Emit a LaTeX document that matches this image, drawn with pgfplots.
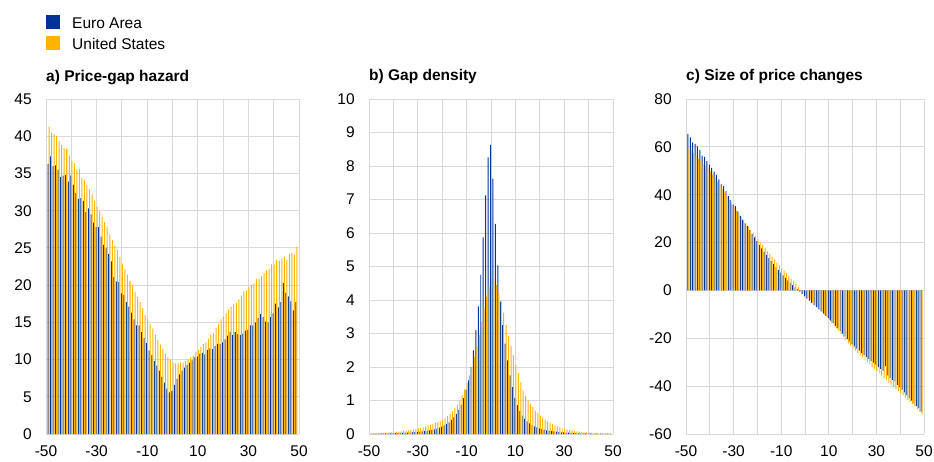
\documentclass[border=0pt]{standalone}
\usepackage{pgfplots}
\pgfplotsset{compat=1.18}
\usepackage{pgfplotstable}
\usepackage{fontspec}
\setmainfont{Liberation Sans}
\definecolor{eablue}{HTML}{003299}
\definecolor{usyel}{HTML}{FFB400}
\definecolor{gridc}{HTML}{D9D9D9}

\pgfplotstableread{
x ea us
-49 36.3 41.3
-48 37.3 40.5
-47 36.0 40.2
-46 36.1 40.0
-45 35.5 39.3
-44 34.5 38.8
-43 34.7 38.4
-42 34.8 38.3
-41 33.9 37.4
-40 34.7 36.7
-39 33.5 36.4
-38 32.4 35.5
-37 31.6 35.6
-36 31.7 34.4
-35 31.3 34.1
-34 29.8 33.4
-33 30.3 32.9
-32 29.5 32.2
-31 28.4 31.3
-30 27.8 30.5
-29 27.8 29.9
-28 26.5 29.2
-27 25.4 28.5
-26 25.0 27.9
-25 24.2 26.8
-24 23.2 26.0
-23 21.1 25.3
-22 20.5 24.7
-21 20.4 23.8
-20 18.9 22.9
-19 18.7 22.1
-18 17.7 21.4
-17 17.1 20.6
-16 16.3 20.0
-15 15.4 19.1
-14 14.6 18.4
-13 14.6 17.7
-12 13.7 16.9
-11 12.9 16.0
-10 12.2 15.4
-9 11.2 14.8
-8 10.6 14.2
-7 9.8 13.3
-6 9.2 12.6
-5 8.5 12.0
-4 7.7 11.4
-3 6.9 10.8
-2 6.1 10.3
-1 5.6 10.0
0 5.8 9.6
1 6.6 9.5
2 7.4 9.5
3 8.0 9.6
4 8.5 9.6
5 8.9 9.8
6 9.3 10.0
7 9.6 10.3
8 9.9 10.5
9 10.3 11.0
10 10.4 11.3
11 10.8 11.7
12 10.9 12.1
13 10.7 12.3
14 11.3 12.8
15 11.5 13.3
16 11.4 13.6
17 11.8 14.3
18 12.1 14.8
19 12.1 15.4
20 12.3 15.7
21 12.7 16.2
22 13.2 16.7
23 13.7 17.1
24 13.3 17.4
25 13.7 17.6
26 13.4 18.1
27 13.3 18.6
28 13.5 19.2
29 13.9 19.3
30 14.0 19.8
31 14.6 20.0
32 14.6 20.2
33 15.0 20.8
34 15.6 20.8
35 16.1 21.2
36 15.7 21.6
37 15.1 22.0
38 15.0 22.2
39 15.7 22.8
40 16.2 22.8
41 17.5 23.4
42 17.0 23.3
43 17.7 23.6
44 20.3 23.8
45 19.0 23.4
46 18.5 24.2
47 17.8 24.3
48 16.6 24.1
49 17.7 25.1
}\hazard

\pgfplotstableread{
x ea us
-49 0.01 0.02
-48 0.01 0.02
-47 0.01 0.03
-46 0.01 0.03
-45 0.01 0.03
-44 0.02 0.04
-43 0.02 0.04
-42 0.02 0.05
-41 0.02 0.05
-40 0.02 0.06
-39 0.03 0.07
-38 0.03 0.07
-37 0.03 0.08
-36 0.03 0.09
-35 0.04 0.10
-34 0.04 0.11
-33 0.05 0.12
-32 0.05 0.13
-31 0.06 0.15
-30 0.06 0.17
-29 0.07 0.18
-28 0.08 0.20
-27 0.09 0.22
-26 0.10 0.24
-25 0.11 0.27
-24 0.12 0.30
-23 0.14 0.33
-22 0.16 0.36
-21 0.19 0.39
-20 0.22 0.43
-19 0.26 0.47
-18 0.30 0.53
-17 0.35 0.60
-16 0.42 0.68
-15 0.50 0.78
-14 0.60 0.88
-13 0.72 1.00
-12 0.88 1.15
-11 1.07 1.33
-10 1.32 1.52
-9 1.60 1.75
-8 2.00 2.00
-7 2.50 2.30
-6 3.10 2.60
-5 3.81 2.95
-4 4.75 3.35
-3 5.87 3.75
-2 7.12 4.10
-1 8.26 4.40
0 8.63 4.63
1 7.62 4.62
2 6.27 4.45
3 5.03 4.22
4 3.95 3.98
5 3.25 3.62
6 2.70 3.26
7 2.20 2.93
8 1.75 2.62
9 1.40 2.35
10 1.08 2.07
11 0.86 1.82
12 0.68 1.55
13 0.55 1.30
14 0.45 1.13
15 0.38 1.00
16 0.32 0.90
17 0.27 0.80
18 0.23 0.70
19 0.20 0.62
20 0.17 0.55
21 0.15 0.49
22 0.13 0.43
23 0.11 0.38
24 0.10 0.34
25 0.09 0.30
26 0.08 0.26
27 0.07 0.23
28 0.06 0.20
29 0.05 0.17
30 0.05 0.15
31 0.04 0.13
32 0.04 0.12
33 0.03 0.10
34 0.03 0.09
35 0.03 0.08
36 0.02 0.07
37 0.02 0.06
38 0.02 0.05
39 0.02 0.05
40 0.01 0.04
41 0.01 0.04
42 0.01 0.03
43 0.01 0.03
44 0.01 0.02
45 0.01 0.02
46 0.01 0.02
47 0.01 0.01
48 0.01 0.01
49 0.01 0.01
}\density

\pgfplotstableread{
x ea us
-49 65.4 59.3
-48 64.0 58.5
-47 61.9 57.5
-46 61.2 56.3
-45 60.2 55.0
-44 58.6 54.0
-43 56.3 52.9
-42 55.8 52.0
-41 54.0 50.9
-40 52.6 49.8
-39 51.2 48.4
-38 49.6 47.0
-37 48.3 45.5
-36 46.4 44.0
-35 44.5 42.5
-34 43.6 41.0
-33 41.5 39.5
-32 39.4 37.9
-31 37.8 36.3
-30 35.9 34.8
-29 35.2 33.4
-28 33.0 32.0
-27 31.1 30.6
-26 29.6 29.3
-25 28.0 28.0
-24 27.0 26.7
-23 25.2 25.4
-22 23.6 24.1
-21 22.2 22.8
-20 20.6 21.5
-19 19.0 20.2
-18 17.6 18.9
-17 16.2 17.7
-16 14.8 16.4
-15 13.5 15.2
-14 12.2 14.0
-13 11.0 12.8
-12 9.7 11.6
-11 8.5 10.5
-10 7.4 9.4
-9 6.3 8.3
-8 5.2 7.2
-7 4.2 6.1
-6 3.2 4.9
-5 2.2 3.8
-4 1.3 2.6
-3 0.4 1.4
-2 -0.5 0.3
-1 -1.4 -0.9
0 -2.5 -2.0
1 -3.4 -3.0
2 -4.3 -4.0
3 -5.2 -5.0
4 -6.1 -6.0
5 -7.0 -7.0
6 -7.9 -8.0
7 -8.8 -9.1
8 -9.7 -10.1
9 -10.6 -11.2
10 -11.5 -12.3
11 -12.6 -13.5
12 -13.7 -14.7
13 -14.8 -15.9
14 -15.9 -17.1
15 -17.0 -18.3
16 -18.1 -19.5
17 -19.2 -20.7
18 -20.3 -21.9
19 -21.4 -23.1
20 -22.5 -24.3
21 -23.4 -25.2
22 -24.3 -26.2
23 -25.2 -27.1
24 -26.1 -28.0
25 -27.0 -29.0
26 -27.8 -30.0
27 -28.6 -30.9
28 -29.4 -31.9
29 -30.2 -32.8
30 -31.0 -33.8
31 -32.0 -34.7
32 -32.8 -35.6
33 -33.5 -36.6
34 -31.6 -37.5
35 -35.5 -38.5
36 -36.5 -39.4
37 -37.4 -40.3
38 -38.0 -41.2
39 -39.5 -42.1
40 -40.5 -43.0
41 -41.5 -43.9
42 -42.6 -44.8
43 -43.8 -45.7
44 -45.0 -46.6
45 -46.0 -47.5
46 -47.2 -48.5
47 -48.3 -49.6
48 -49.2 -50.6
49 -50.6 -51.7
}\sizes

\pgfplotsset{
  panel/.style={
    scale only axis,
    height=335pt,
    anchor=south west,
    xmin=-50, xmax=50,
    xtick={-50,-40,...,50},
    xticklabels={-50,,-30,,-10,,10,,30,,50},
    axis line style={draw=none},
    major tick length=0pt,
    grid=major,
    major grid style={gridc, line width=0.9pt},
    /pgf/number format/assume math mode=true,
    yticklabel style={xshift=-9pt},
    xticklabel style={yshift=-6pt},
    title style={at={(axis description cs:0,1)}, anchor=base west, inner sep=0pt, yshift=12pt, font=\bfseries},
  },
  eabar/.style={ybar, bar width=0.4, bar shift=-0.2, fill=eablue, draw=none},
  usbar/.style={ybar, bar width=0.4, bar shift=0.2, fill=usyel, draw=none},
}

\begin{document}
\fontsize{15.5pt}{18pt}\selectfont
\begin{tikzpicture}
\useasboundingbox (0pt,0pt) rectangle (934pt,461pt);

\begin{axis}[panel, at={(46pt,27pt)}, width=253pt,
  ymin=0, ymax=45, ytick={0,5,...,45},
  title={a) Price-gap hazard},
  legend style={at={(axis description cs:0,1)}, anchor=north west, yshift=84pt,
    draw=none, fill=none, inner sep=0pt, row sep=5pt,
    nodes={inner sep=0pt}, column sep=12pt, legend cell align=left},
  legend image code/.code={\fill[#1] (0pt,-5pt) rectangle (14pt,9pt);},
]
\addplot[eabar] table[x=x, y=ea] {\hazard};
\addlegendentry{Euro Area}
\addplot[usbar] table[x=x, y=us] {\hazard};
\addlegendentry{United States}
\end{axis}

\begin{axis}[panel, at={(369pt,27pt)}, width=244pt,
  ymin=0, ymax=10, ytick={0,1,...,10},
  title={b) Gap density},
]
\addplot[eabar] table[x=x, y=ea] {\density};
\addplot[usbar] table[x=x, y=us] {\density};
\end{axis}

\begin{axis}[panel, at={(686pt,27pt)}, width=238pt,
  ymin=-60, ymax=80, ytick={-60,-40,...,80},
  title={c) Size of price changes},
]
\addplot[eabar] table[x=x, y=ea] {\sizes};
\addplot[usbar] table[x=x, y=us] {\sizes};
\end{axis}
\end{tikzpicture}
\end{document}
